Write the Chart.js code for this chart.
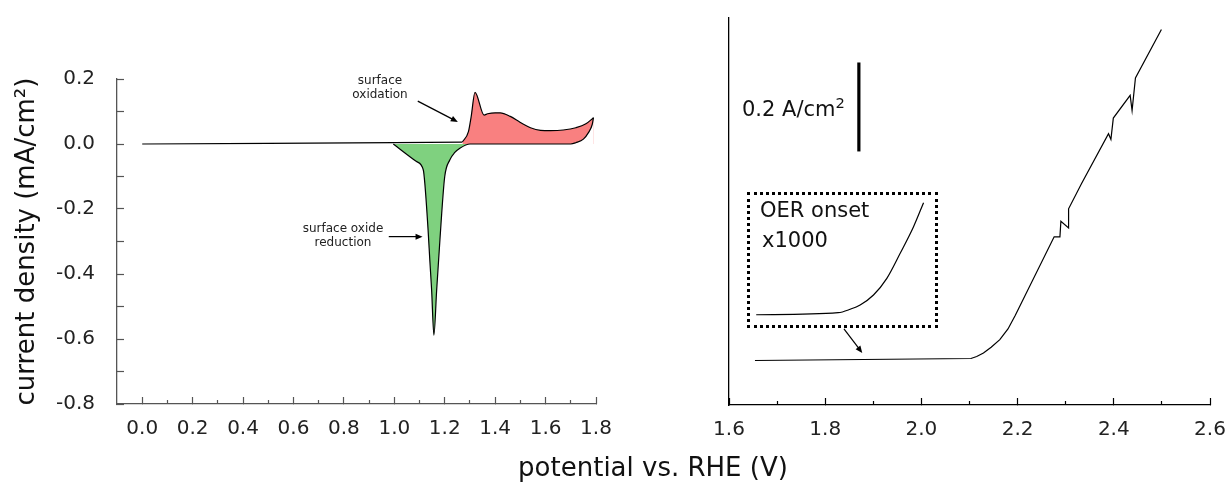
<!DOCTYPE html>
<html>
<head>
<meta charset="utf-8">
<script src="https://cdn.jsdelivr.net/npm/chart.js"></script>
<style>
  body { margin: 0; background: #fff; font-family: 'DejaVu Sans', sans-serif; color: #111; }
  #wrap { position: relative; width: 1228px; height: 483px; overflow: hidden; }
  canvas { position: absolute; top: 0; }
  .lbl { position: absolute; white-space: nowrap; }
  .small { font-size: 12px; line-height: 13.5px; text-align: center; width: 120px; color: #222; }
  .big { font-size: 21px; line-height: 25px; }
  sup { font-size: 0.7em; line-height: 0; vertical-align: 0.55em; }
  #inset { position: absolute; left: 747px; top: 192px; width: 191px; height: 136px;
           box-sizing: border-box; border: 3px dotted #000; }
  #inset canvas { left: 0; top: 0; }
</style>
</head>
<body>
<div id="wrap">
  <canvas id="left" width="612" height="483" style="left:0"></canvas>
  <canvas id="right" width="616" height="483" style="left:612px"></canvas>

  <div class="lbl small" style="left:320px; top:74px">surface<br>oxidation</div>
  <div class="lbl small" style="left:283px; top:222px">surface oxide<br>reduction</div>

  <div class="lbl big" style="left:742px; top:97px">0.2 A/cm<sup>2</sup></div>

  <div id="inset"><canvas id="onset" width="185" height="130"></canvas></div>
  <div class="lbl big" style="left:760px; top:198px">OER onset</div>
  <div class="lbl big" style="left:762px; top:228px">x1000</div>

  <div class="lbl" style="left:0; width:1306px; text-align:center; top:452px; font-size:26px">potential vs. RHE (V)</div>
</div>

<script>
// cyclic voltammogram, left panel (V vs RHE, mA/cm2)
const cvAnodicV = [0.0, 0.5, 1.0, 1.27, 1.294, 1.305, 1.32, 1.356, 1.37, 1.40, 1.42, 1.46, 1.50, 1.54, 1.58, 1.62, 1.67, 1.72, 1.76, 1.79];
const cvAnodicJ = [0.0, 0.002, 0.004, 0.006, 0.038, 0.085, 0.159, 0.089, 0.093, 0.096, 0.096, 0.085, 0.066, 0.050, 0.042, 0.041, 0.043, 0.050, 0.062, 0.081];
const cvCathodicV = [1.79, 1.785, 1.77, 1.75, 1.72, 1.70, 1.60, 1.40, 1.30, 1.26, 1.24, 1.22, 1.20, 1.188, 1.178, 1.168, 1.157, 1.148, 1.141, 1.134, 1.121, 1.115, 1.088, 0.996];
const cvCathodicJ = [0.081, 0.060, 0.035, 0.015, 0.004, 0.0, 0.0, 0.0, 0.0, -0.013, -0.026, -0.049, -0.10, -0.213, -0.33, -0.449, -0.588, -0.449, -0.36, -0.265, -0.121, -0.080, -0.054, 0.0];
const oxidationStart = 1.27;

// OER polarisation, right panel (V vs RHE, A/cm2)
const oerV = [1.654, 2.103, 2.115, 2.129, 2.145, 2.163, 2.18, 2.195, 2.276, 2.288, 2.290, 2.306, 2.306, 2.333, 2.389, 2.394, 2.399, 2.434, 2.438, 2.445, 2.499];
const oerJ = [0.0, 0.0045, 0.009, 0.017, 0.030, 0.047, 0.071, 0.101, 0.278, 0.278, 0.313, 0.298, 0.341, 0.398, 0.510, 0.497, 0.545, 0.596, 0.562, 0.635, 0.744];
const scaleBarV = [1.87, 1.87];
const scaleBarJ = [0.47, 0.67];

// onset inset (x1000)
const onsetV = [1.650, 1.822, 1.847, 1.868, 1.896, 1.924, 1.952, 1.980, 2.001];
const onsetJ = [0.079, 0.095, 0.121, 0.154, 0.231, 0.359, 0.552, 0.756, 0.941];

// ticks
const leftXLabels = [0.0, 0.2, 0.4, 0.6, 0.8, 1.0, 1.2, 1.4, 1.6, 1.8];
const leftXMinor = [0.1, 0.3, 0.5, 0.7, 0.9, 1.1, 1.3, 1.5, 1.7];
const leftYTicks = [0.2, 0.1, 0.0, -0.1, -0.2, -0.3, -0.4, -0.5, -0.6, -0.7, -0.8];
const leftYLabels = [0.2, 0.0, -0.2, -0.4, -0.6, -0.8];
const rightXLabels = [1.6, 1.8, 2.0, 2.2, 2.4, 2.6];
const rightXMinor = [1.7, 1.9, 2.1, 2.3, 2.5];

const font = 'DejaVu Sans';
const pts = (xs, ys) => xs.map((x, i) => ({ x, y: ys[i] }));

const arrowPlugin = {
    id: 'arrows',
    afterDatasetsDraw(chart, args, opts) {
        const ctx = chart.ctx;
        const sx = chart.scales.x, sy = chart.scales.y;
        (opts.list || []).forEach(a => {
            const x1 = sx.getPixelForValue(a.from[0]), y1 = sy.getPixelForValue(a.from[1]);
            const x2 = sx.getPixelForValue(a.to[0]), y2 = sy.getPixelForValue(a.to[1]);
            const ang = Math.atan2(y2 - y1, x2 - x1);
            ctx.save();
            ctx.strokeStyle = '#000';
            ctx.fillStyle = '#000';
            ctx.lineWidth = 1.2;
            ctx.beginPath();
            ctx.moveTo(x1, y1);
            ctx.lineTo(x2 - 5 * Math.cos(ang), y2 - 5 * Math.sin(ang));
            ctx.stroke();
            ctx.beginPath();
            ctx.moveTo(x2, y2);
            ctx.lineTo(x2 - 7 * Math.cos(ang) + 3 * Math.sin(ang), y2 - 7 * Math.sin(ang) - 3 * Math.cos(ang));
            ctx.lineTo(x2 - 7 * Math.cos(ang) - 3 * Math.sin(ang), y2 - 7 * Math.sin(ang) + 3 * Math.cos(ang));
            ctx.closePath();
            ctx.fill();
            ctx.restore();
        });
    }
};

// labelled x axis with long ticks
function xAxis(min, max, labels, color, height) {
    return {
        type: 'linear', min, max,
        afterBuildTicks: s => { s.ticks = labels.map(v => ({ value: v })); },
        afterFit: s => { s.height = height; s.paddingLeft = 0; s.paddingRight = 0; },
        ticks: {
            autoSkip: false, maxRotation: 0, padding: 20, color: '#222',
            font: { family: font, size: 20 },
            callback: v => v.toFixed(1)
        },
        grid: { drawOnChartArea: false, drawTicks: true, tickLength: -7, tickColor: color, tickWidth: 1.2 },
        border: { color, width: 1.3 }
    };
}

// zero-height axis sitting on the same line, carrying the short minor ticks
function xMinorAxis(min, max, minor, color) {
    return {
        type: 'linear', min, max, position: 'bottom', weight: -1,
        afterBuildTicks: s => { s.ticks = minor.map(v => ({ value: v })); },
        afterFit: s => { s.height = 0; s.paddingLeft = 0; s.paddingRight = 0; },
        ticks: { autoSkip: false, maxRotation: 0, padding: 0, callback: () => '' },
        grid: { drawOnChartArea: false, drawTicks: true, tickLength: -4, tickColor: color, tickWidth: 1.2 },
        border: { display: false }
    };
}

const anodicPts = pts(cvAnodicV, cvAnodicJ);

new Chart(document.getElementById('left'), {
    type: 'line',
    data: {
        datasets: [
            {
                data: pts(cvCathodicV, cvCathodicJ),
                borderColor: '#000', borderWidth: 1.2, pointRadius: 0,
                cubicInterpolationMode: 'monotone',
                fill: { target: 'origin', above: '#fff', below: '#7fd17f' }
            },
            {
                data: anodicPts.filter(p => p.x >= oxidationStart),
                borderColor: '#000', borderWidth: 1.2, pointRadius: 0,
                cubicInterpolationMode: 'monotone',
                fill: { target: 'origin', above: '#f98080', below: '#f98080' }
            },
            {
                data: anodicPts.filter(p => p.x <= oxidationStart),
                borderColor: '#000', borderWidth: 1.2, pointRadius: 0, fill: false
            }
        ]
    },
    options: {
        responsive: false, animation: false, devicePixelRatio: 1,
        layout: { padding: { top: 79, right: 16, left: 0, bottom: 0 } },
        plugins: {
            legend: { display: false }, tooltip: { enabled: false },
            arrows: { list: [
                { from: [1.093, 0.132], to: [1.252, 0.068] },
                { from: [0.978, -0.285], to: [1.112, -0.285] }
            ] }
        },
        scales: {
            x: xAxis(-0.1, 1.8, leftXLabels, '#555', 79),
            xMinor: xMinorAxis(-0.1, 1.8, leftXMinor, '#555'),
            y: {
                min: -0.8, max: 0.2,
                afterBuildTicks: s => { s.ticks = leftYTicks.map(v => ({ value: v })); },
                afterFit: s => { s.width = 117; },
                ticks: {
                    autoSkip: false, padding: 29, color: '#222',
                    font: { family: font, size: 20 },
                    callback: v => leftYLabels.includes(v) ? v.toFixed(1) : ''
                },
                grid: { drawOnChartArea: false, drawTicks: true, tickLength: -7, tickColor: '#555', tickWidth: 1.2 },
                border: { color: '#555', width: 1.3 },
                title: {
                    display: true, text: 'current density (mA/cm²)', color: '#111',
                    font: { family: font, size: 26 }, padding: { top: 12, bottom: 0 }
                }
            }
        }
    },
    plugins: [arrowPlugin]
});

new Chart(document.getElementById('right'), {
    type: 'line',
    data: {
        datasets: [
            { data: pts(oerV, oerJ), borderColor: '#000', borderWidth: 1.2, pointRadius: 0, fill: false },
            { data: pts(scaleBarV, scaleBarJ), borderColor: '#000', borderWidth: 3.2, pointRadius: 0, fill: false }
        ]
    },
    options: {
        responsive: false, animation: false, devicePixelRatio: 1,
        layout: { padding: { top: 18, right: 18, left: 0, bottom: 0 } },
        plugins: {
            legend: { display: false }, tooltip: { enabled: false },
            arrows: { list: [ { from: [1.839, 0.071], to: [1.877, 0.017] } ] }
        },
        scales: {
            x: xAxis(1.6, 2.6, rightXLabels, '#000', 78),
            xMinor: xMinorAxis(1.6, 2.6, rightXMinor, '#000'),
            y: {
                min: -0.1, max: 0.77,
                afterFit: s => { s.width = 117; },
                ticks: { display: false },
                grid: { display: false },
                border: { color: '#000', width: 1.3 }
            }
        }
    },
    plugins: [arrowPlugin]
});

new Chart(document.getElementById('onset'), {
    type: 'line',
    data: {
        datasets: [{
            data: pts(onsetV, onsetJ), borderColor: '#000', borderWidth: 1.2,
            pointRadius: 0, fill: false, cubicInterpolationMode: 'monotone'
        }]
    },
    options: {
        responsive: false, animation: false, devicePixelRatio: 1,
        layout: { padding: 0 },
        plugins: { legend: { display: false }, tooltip: { enabled: false } },
        scales: {
            x: { type: 'linear', min: 1.637, max: 2.025, display: false },
            y: { min: 0, max: 1, display: false }
        }
    }
});
</script>
</body>
</html>
